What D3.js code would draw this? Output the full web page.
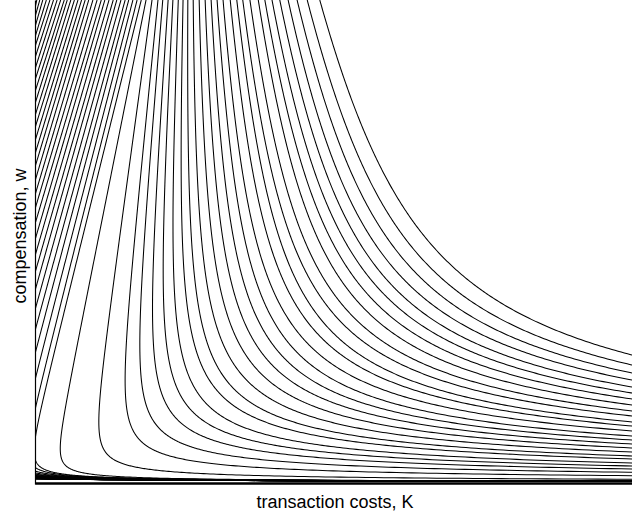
<!DOCTYPE html>
<html><head><meta charset="utf-8">
<script src="https://cdn.jsdelivr.net/npm/d3@7"></script>
<style>body{margin:0;background:#fff}svg{display:block}</style>
</head><body>
<svg id="chart" width="632" height="515"></svg>
<script>
// ---- data (chart units: K and w both run 0..1 over the visible plot) ----
// curves that run from the top edge down to the w-axis
const leftTopK  = [0.003,0.008,0.013,0.019,0.025,0.031,0.037,0.043,0.049,0.054,0.060,0.066,0.072,0.078,0.084,0.090,0.097,0.104,0.111,0.117,0.124,0.131,0.137,0.144,0.151,0.157,0.164,0.171,0.178];
const leftExitW = [0.983,0.965,0.944,0.923,0.903,0.880,0.857,0.834,0.810,0.785,0.760,0.735,0.708,0.681,0.654,0.625,0.596,0.567,0.536,0.503,0.470,0.435,0.398,0.358,0.315,0.267,0.213,0.151,0.089];
// curves that run from the top edge to the right edge
const rightTopK  = [0.186,0.196,0.206,0.214,0.223,0.231,0.240,0.248,0.256,0.265,0.275,0.285,0.295,0.305,0.315,0.327,0.338,0.348,0.360,0.374,0.385,0.397,0.410,0.424,0.439,0.456,0.477];
const rightExitW = [0.0037,0.0077,0.0151,0.0222,0.0290,0.0352,0.0414,0.0497,0.0559,0.0642,0.0725,0.0807,0.0890,0.0973,0.1077,0.1180,0.1263,0.1387,0.1491,0.1615,0.1739,0.1863,0.1988,0.2133,0.2277,0.2443,0.2650];
const rightTopLean = [0.162,0.111,0.081,0.066,0.053,0.040,0.028,0.016,0.004,-0.008,-0.020,-0.032,-0.044,-0.057,-0.069,-0.081,-0.093,-0.105,-0.117,-0.129,-0.142,-0.154,-0.166,-0.178,-0.194,-0.210,-0.227];
const xLabel = "transaction costs, K";
const yLabel = "compensation, w";

// ---- layout ----
const svg = d3.select("#chart");
const x = d3.scaleLinear().domain([0, 1]).range([35, 632]);
const y = d3.scaleLinear().domain([0, 1]).range([483, 0]);

const p = 1.67;
const phi = w => Math.pow(w, -p) - 1;
const kTop = p;                       // |d phi/dw| at w = 1
function curveK(cv, w) { return cv.t + cv.g * (w - 1) + cv.c * phi(w); }

const curves = [];
let cCorner = 0;
rightTopK.forEach((t, i) => {
  const wr = rightExitW[i], s = rightTopLean[i];
  const c = (1 - t - s * (wr - 1)) / (kTop * (wr - 1) + phi(wr));
  const g = s + kTop * c;
  if (i === 0) cCorner = c;
  curves.push({t, g, c});
});
leftTopK.forEach((t, i) => {
  const wh = leftExitW[i];
  const c = cCorner;
  const g = (t + c * phi(wh)) / (1 - wh);
  curves.push({t, g, c});
});

const N = 700;
const ws = d3.range(1, N + 1).map(i => Math.pow(i / N, 3));

svg.append("defs").append("clipPath").attr("id", "plot")
  .append("rect").attr("x", 35).attr("y", -5).attr("width", 600).attr("height", 488);

const line = d3.line()
  .x(d => x(Math.max(-0.5, Math.min(3, d[0]))))
  .y(d => y(d[1]));

svg.append("g").attr("clip-path", "url(#plot)")
  .selectAll("path").data(curves).join("path")
  .attr("d", cv => line(ws.map(w => [curveK(cv, w), w])))
  .attr("fill", "none").attr("stroke", "#000").attr("stroke-width", 1.05);

svg.append("g").attr("transform", "translate(35,0)")
  .call(d3.axisLeft(d3.scaleLinear().domain([0,1]).range([484, 0])).ticks(0).tickSizeOuter(0))
  .call(g => g.select(".domain").attr("stroke", "#000").attr("stroke-width", 1.2));
svg.append("g").attr("transform", "translate(0,483)")
  .call(d3.axisBottom(d3.scaleLinear().domain([0,1]).range([35, 632])).ticks(0).tickSizeOuter(0))
  .call(g => g.select(".domain").attr("stroke", "#000").attr("stroke-width", 2.5));

svg.append("text").attr("x", 335).attr("y", 508)
  .attr("text-anchor", "middle")
  .style("font-family", "'Liberation Sans', Arial, sans-serif").style("font-size", "18px")
  .text(xLabel);
svg.append("text").attr("transform", "translate(26,236) rotate(-90)")
  .attr("text-anchor", "middle")
  .style("font-family", "'Liberation Sans', Arial, sans-serif").style("font-size", "18px")
  .text(yLabel);
</script>
</body></html>
